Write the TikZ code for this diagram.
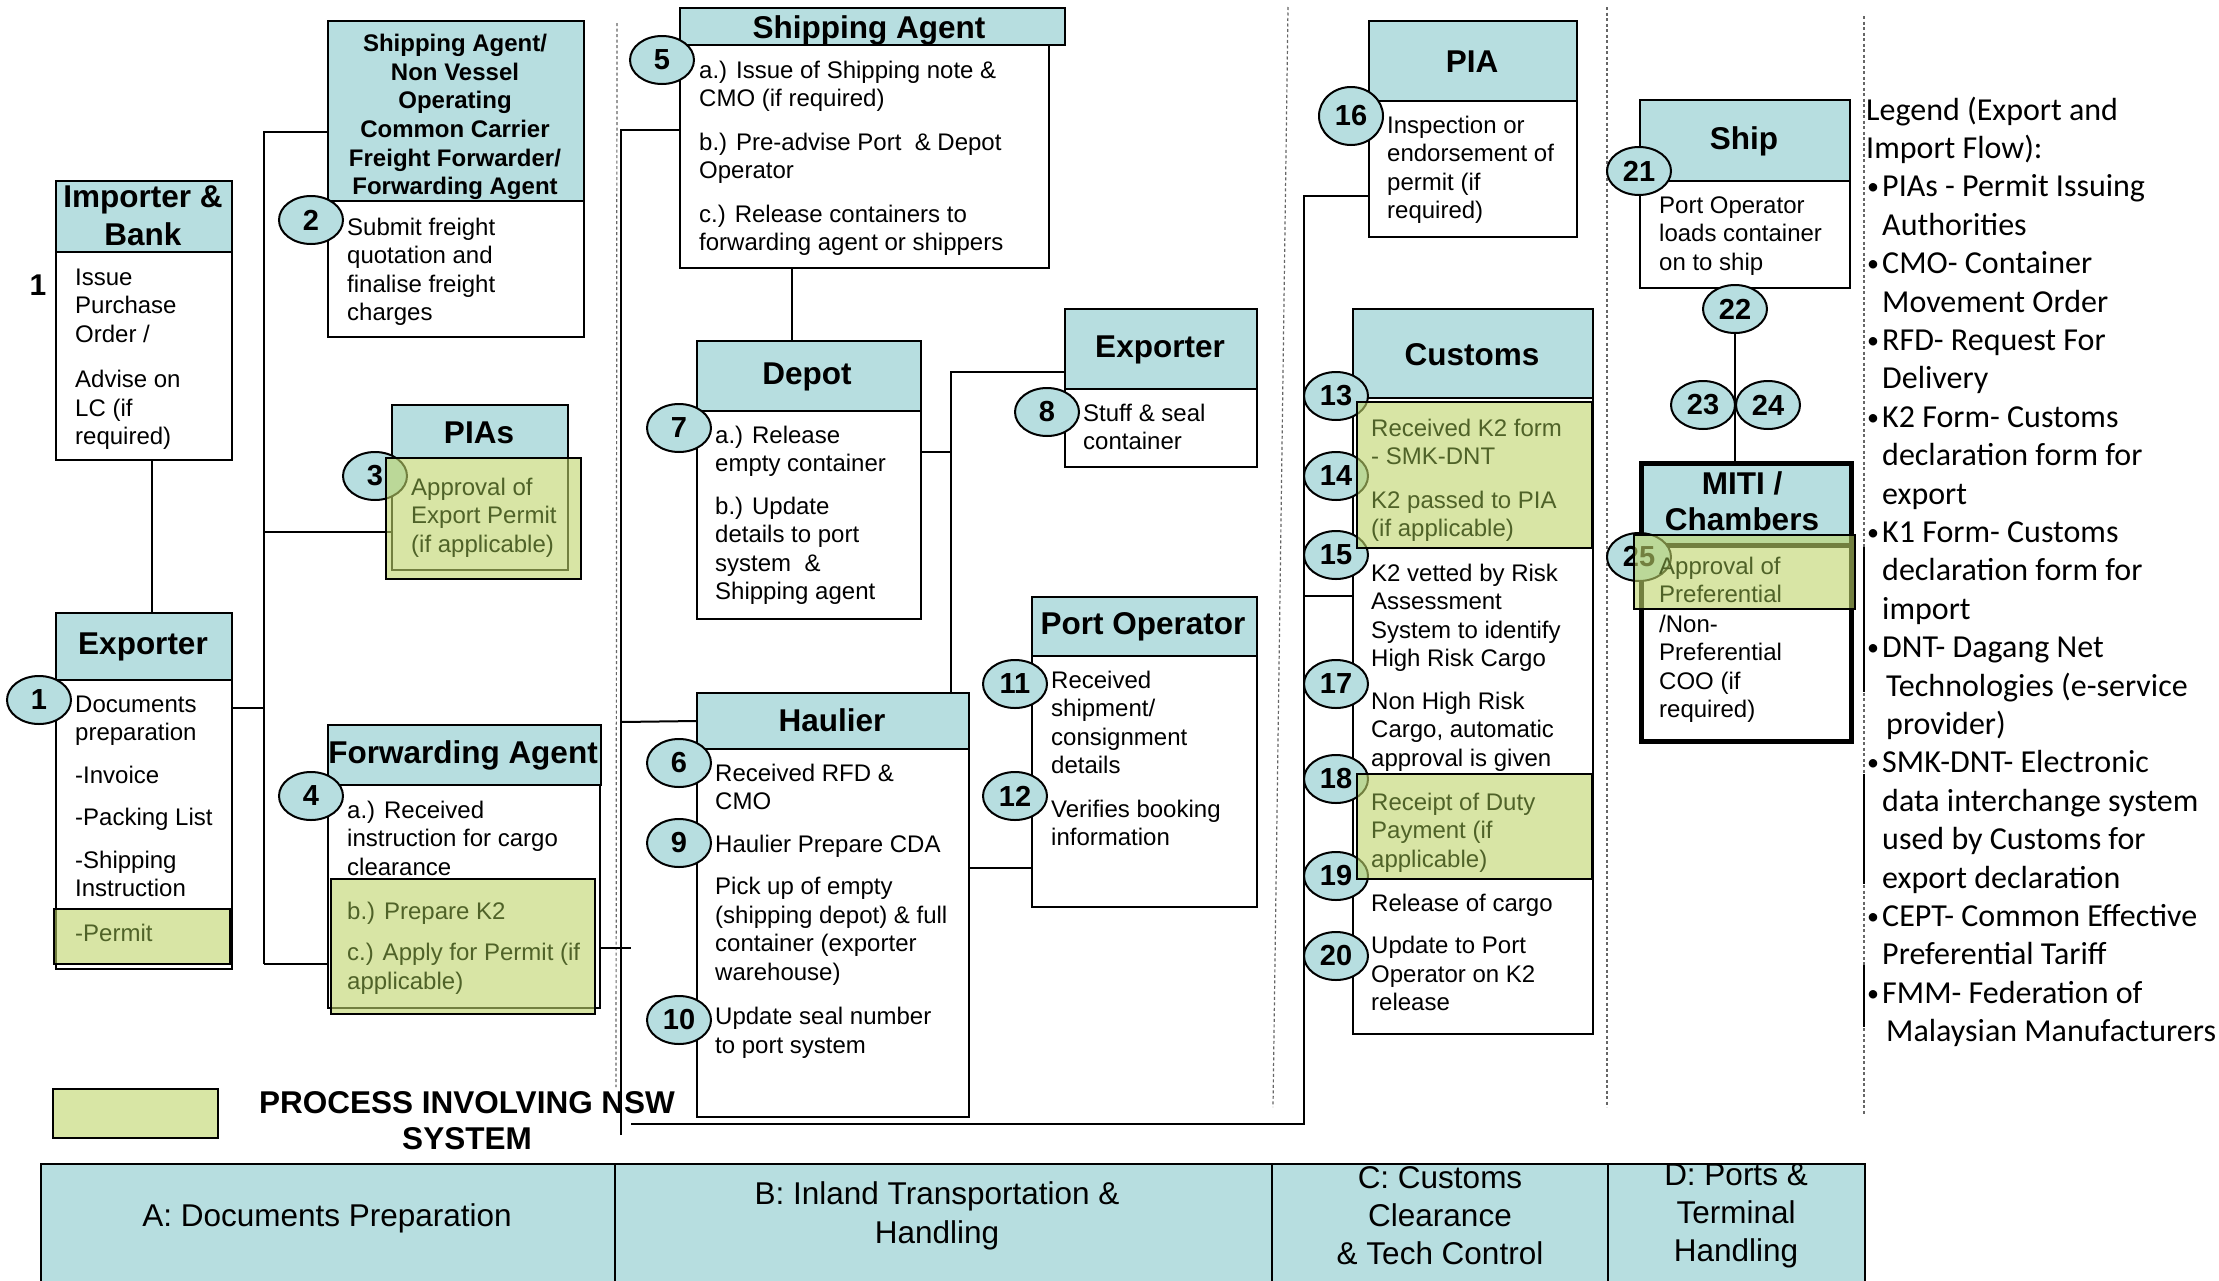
\documentclass[tikz,border=0pt]{standalone}
\usepackage{fontspec}
\setmainfont{Liberation Sans}
\newfontfamily\legfont{Carlito}
\usetikzlibrary{shapes.geometric}
\definecolor{hdrteal}{HTML}{B7DEE0}
\definecolor{nswgreen}{RGB}{190,213,105}
\definecolor{nswlight}{RGB}{216,230,165}
\definecolor{nswtext}{HTML}{4F6228}
\newcommand{\ttlf}{\fontsize{31.5}{38}\selectfont\bfseries}
\newcommand{\bodyf}{\fontsize{24}{28.5}\selectfont}
\newcommand{\numf}{\fontsize{29}{32}\selectfont\bfseries}
\newcommand{\txtl}[1]{\begin{tabular}[t]{@{}l@{}}#1\end{tabular}}
\newcommand{\lbul}{\makebox[16pt][l]{\hspace{1pt}{\fontsize{24}{24}\selectfont\raisebox{2pt}{•}}}}
\newcommand{\lind}{\hspace*{16pt}}
\newcommand{\lindd}{\hspace*{20pt}}
\tikzset{
 hdr/.style={draw, line width=2pt, fill=hdrteal, inner sep=0pt, anchor=north west},
 bodyb/.style={draw, line width=2pt, fill=white, inner sep=0pt, anchor=north west},
 nswb/.style={draw, line width=2pt, fill=nswgreen, fill opacity=0.6, draw opacity=1, inner sep=0pt, anchor=north west},
 band/.style={draw, line width=2pt, fill=hdrteal, inner sep=0pt, anchor=north west, minimum height=130pt},
 ttl/.style={inner sep=0pt, align=center, font=\ttlf},
 btxt/.style={inner sep=0pt, anchor=base west, font=\bodyf},
 gtxt/.style={btxt, text=nswtext},
 num/.style={ellipse, draw, line width=2pt, fill=hdrteal, minimum width=64pt, minimum height=48pt, inner sep=0pt, font=\numf},
 conn/.style={line width=2pt},
 divd/.style={line width=1.2pt, black!60, dash pattern=on 3pt off 2.5pt},
}
\begin{document}
\begin{tikzpicture}[x=1pt,y=-1pt]
\useasboundingbox[fill=white] (0,0) rectangle (2219,1280);

% dividers
\draw[divd] (617,23) -- (616,1087);
\draw[divd] (1288,7) -- (1273,1107);
\draw[divd] (1607,7) -- (1607,1107);
\draw[divd] (1864,16) -- (1864,1115);
\draw[line width=2pt] (1864,547) -- (1864,692);
\draw[line width=2pt] (1864,774) -- (1864,884);
\draw[line width=2pt] (1864,965) -- (1864,1027);

% boxes
\node[hdr, minimum width=176pt, minimum height=71pt] (impH) at (55,180) {};
\node[bodyb, minimum width=176pt, minimum height=208pt] (impB) at (55,251) {};
\node[hdr, minimum width=256pt, minimum height=180pt] (nvH) at (327,20) {};
\node[bodyb, minimum width=256pt, minimum height=136pt] (nvB) at (327,200) {};
\node[hdr, minimum width=176pt, minimum height=53pt] (piasH) at (391,404) {};
\node[bodyb, minimum width=176pt, minimum height=112pt] (piasB) at (391,457) {};
\node[hdr, minimum width=176pt, minimum height=67pt] (expH) at (55,612) {};
\node[bodyb, minimum width=176pt, minimum height=289pt] (expB) at (55,679) {};
\node[hdr, minimum width=273pt, minimum height=60pt] (fwdH) at (327,724) {};
\node[bodyb, minimum width=272pt, minimum height=223pt] (fwdB) at (327,784) {};
\node[hdr, minimum width=385pt, minimum height=37pt] (saH) at (679,7) {};
\node[bodyb, minimum width=369pt, minimum height=223pt] (saB) at (679,44) {};
\node[hdr, minimum width=224pt, minimum height=70pt] (depH) at (696,340) {};
\node[bodyb, minimum width=224pt, minimum height=208pt] (depB) at (696,410) {};
\node[hdr, minimum width=192pt, minimum height=80pt] (ex8H) at (1064,308) {};
\node[bodyb, minimum width=192pt, minimum height=78pt] (ex8B) at (1064,388) {};
\node[hdr, minimum width=272pt, minimum height=56pt] (hauH) at (696,692) {};
\node[bodyb, minimum width=272pt, minimum height=368pt] (hauB) at (696,748) {};
\node[hdr, minimum width=225pt, minimum height=59pt] (poH) at (1031,596) {};
\node[bodyb, minimum width=225pt, minimum height=251pt] (poB) at (1031,655) {};
\node[hdr, minimum width=208pt, minimum height=80pt] (piaH) at (1368,20) {};
\node[bodyb, minimum width=208pt, minimum height=136pt] (piaB) at (1368,100) {};
\node[hdr, minimum width=240pt, minimum height=89pt] (cuH) at (1352,308) {};
\node[bodyb, minimum width=240pt, minimum height=636pt] (cuB) at (1352,397) {};
\node[hdr, minimum width=210pt, minimum height=81pt] (shH) at (1639,99) {};
\node[bodyb, minimum width=210pt, minimum height=107pt] (shB) at (1639,180) {};
\node[hdr, line width=5pt, minimum width=210pt, minimum height=82pt] (miH) at (1639,461) {};
\node[bodyb, line width=5pt, minimum width=210pt, minimum height=196pt] (miB) at (1639,543) {};

% bottom band and NSW legend
\node[band, minimum width=574pt] (bandA) at (40,1163) {};
\node[band, minimum width=657pt] (bandB) at (614,1163) {};
\node[band, minimum width=336pt] (bandC) at (1271,1163) {};
\node[band, minimum width=257pt] (bandD) at (1607,1163) {};
\node[draw, line width=2pt, fill=nswlight, inner sep=0pt, anchor=north west, minimum width=165pt, minimum height=49pt] (lgG) at (52,1088) {};

% connectors
\coordinate (busAtop) at (264,132);
\coordinate (busAbot) at (264,964);
\coordinate (busA708) at (264,708);
\coordinate (busA532) at (264,532);
\draw[conn] (busAbot) -- (busAtop) -- (busAtop -| nvH.west);
\draw[conn] (expB.east |- busA708) -- (busA708);
\draw[conn] (busA532) -- (busA532 -| piasB.west);
\draw[conn] (busAbot) -- (busAbot -| fwdB.west);
\draw[conn] ([xshift=8pt]impB.south) -- ([xshift=8pt]expH.north);
\coordinate (busBtop) at (621,130);
\coordinate (busBbot) at (621,1135);
\coordinate (busB722) at (621,722);
\coordinate (fwdR) at (631,948);
\draw[conn] (busBbot) -- (busBtop) -- (busBtop -| saB.west);
\draw[conn] (busB722) -- (hauH.west);
\draw[conn] (fwdR -| fwdB.east) -- (fwdR);
\coordinate (sd) at (792,300);
\draw[conn] (saB.south -| sd) -- (depH.north -| sd);
\coordinate (jx) at (951,452);
\coordinate (j372) at (951,372);
\draw[conn] (jx -| depB.east) -- (jx);
\draw[conn] (hauH.north -| j372) -- (j372) -- (j372 -| ex8H.west);
\coordinate (hp) at (1000,868);
\draw[conn] (hauB.east |- hp) -- (poB.west |- hp);
\coordinate (cbl) at (631,1124);
\coordinate (cbr) at (1304,1124);
\coordinate (cbt) at (1304,196);
\coordinate (cbc) at (1304,596);
\draw[conn] (cbl) -- (cbr) -- (cbt) -- (cbt -| piaB.west);
\draw[conn] (cbc) -- (cbc -| cuB.west);

% titles
\node[ttl] (impT) at (143,216) {Importer \&\\Bank};
\node[ttl, font=\fontsize{24}{28.7}\selectfont\bfseries] (nvT) at (455,117) {Shipping Agent/\\Non Vessel\\Operating\\Common Carrier\\Freight Forwarder/\\Forwarding Agent};
\node[ttl] (piasT) at (479,433) {PIAs};
\node[ttl] (expT) at (143,647) {Exporter};
\node[ttl] (fwdT) at (463,755) {Forwarding Agent};
\node[ttl] (saT) at (869,30) {Shipping Agent};
\node[ttl] (depT) at (807,377) {Depot};
\node[ttl] (ex8T) at (1160,350) {Exporter};
\node[ttl] (hauT) at (832,720) {Haulier};
\node[ttl] (poT) at (1143,627) {Port Operator};
\node[ttl] (piaT) at (1472,62) {PIA};
\node[ttl] (cuT) at (1472,355) {Customs};
\node[ttl] (shT) at (1744,141) {Ship};
\node[ttl, font=\fontsize{31.5}{36}\selectfont\bfseries] (miT) at (1742,501) {MITI /\\Chambers};
\node[ttl, font=\fontsize{30}{32}\selectfont\bfseries] (one) at (38,285) {1};

% number ellipses
\node[num] (n1) at (39,700) {1};
\node[num] (n2) at (311,220) {2};
\node[num] (n3) at (375,476) {3};
\node[num] (n4) at (311,796) {4};
\node[num] (n5) at (662,60) {5};
\node[num] (n6) at (679,763) {6};
\node[num] (n7) at (679,428) {7};
\node[num] (n8) at (1047,412) {8};
\node[num] (n9) at (679,843) {9};
\node[num] (n10) at (679,1020) {10};
\node[num] (n11) at (1015,684) {11};
\node[num] (n12) at (1015,796) {12};
\node[num] (n13) at (1336,396) {13};
\node[num] (n14) at (1336,476) {14};
\node[num] (n15) at (1336,555) {15};
\node[num, minimum height=58pt] (n16) at (1351,116) {16};
\node[num] (n17) at (1336,684) {17};
\node[num] (n18) at (1336,779) {18};
\node[num] (n19) at (1336,876) {19};
\node[num] (n20) at (1336,956) {20};
\node[num] (n21) at (1639,171) {21};
\node[num] (n22) at (1735,309) {22};
\node[num] (n23) at (1703,405) {23};
\node[num] (n24) at (1768,405) {24};
\node[num] (n25) at (1639,557) {25};
\draw[conn] (n22.south) -- (miH.north -| n22.south);

% NSW (green) overlays
\node[nswb, minimum width=195pt, minimum height=121pt] (piasG) at (385,457) {};
\node[nswb, minimum width=176pt, minimum height=55pt] (expG) at (53,908) {};
\node[nswb, minimum width=264pt, minimum height=135pt] (fwdG) at (330,878) {};
\node[nswb, minimum width=235pt, minimum height=146pt] (cuG1) at (1356,401) {};
\node[nswb, minimum width=235pt, minimum height=105pt] (cuG2) at (1356,773) {};
\node[nswb, minimum width=221pt, minimum height=74pt] (miG) at (1633,534) {};

% body texts
\node[btxt] (impX) at (75,285) {\txtl{Issue\\Purchase\\Order /\\[17pt]Advise on\\LC (if\\required)}};
\node[btxt] (nvX) at (347,235) {\txtl{Submit freight\\quotation and\\finalise freight\\charges}};
\node[gtxt] (piasX) at (411,495) {\txtl{Approval of\\Export Permit\\(if applicable)}};
\node[btxt] (expX) at (75,712) {\txtl{Documents\\preparation\\[14pt]-Invoice\\[14pt]-Packing List\\[14pt]-Shipping\\Instruction}};
\node[gtxt] (expGX) at (75,941) {-Permit};
\node[btxt] (fwdX) at (347,818) {\txtl{a.) Received\\instruction for cargo\\clearance}};
\node[gtxt] (fwdGX) at (347,919) {\txtl{b.) Prepare K2\\[13pt]c.) Apply for Permit (if\\applicable)}};
\node[btxt] (saX) at (699,78) {\txtl{a.) Issue of Shipping note \&\\CMO (if required)\\[15pt]b.) Pre-advise Port~ \& Depot\\Operator\\[15pt]c.) Release containers to\\forwarding agent or shippers}};
\node[btxt] (depX) at (715,443) {\txtl{a.) Release\\empty container\\[14pt]b.) Update\\details to port\\system~ \&\\Shipping agent}};
\node[btxt] (ex8X) at (1083,421) {\txtl{Stuff \& seal\\container}};
\node[btxt] (hauX) at (715,781) {\txtl{Received RFD \&\\CMO\\[14pt]Haulier Prepare CDA\\[14pt]Pick up of empty\\(shipping depot) \& full\\container (exporter\\warehouse)\\[16pt]Update seal number\\to port system}};
\node[btxt] (poX) at (1051,688) {\txtl{Received\\shipment/\\consignment\\details\\[15pt]Verifies booking\\information}};
\node[btxt] (piaX) at (1387,133) {\txtl{Inspection or\\endorsement of\\permit (if\\required)}};
\node[gtxt] (cuG1X) at (1371,436) {\txtl{Received K2 form\\- SMK-DNT\\[15pt]K2 passed to PIA\\(if applicable)}};
\node[btxt] (cuX1) at (1371,581) {\txtl{K2 vetted by Risk\\Assessment\\System to identify\\High Risk Cargo\\[14pt]Non High Risk\\Cargo, automatic\\approval is given}};
\node[gtxt] (cuG2X) at (1371,810) {\txtl{Receipt of Duty\\Payment (if\\applicable)}};
\node[btxt] (cuX2) at (1371,911) {\txtl{Release of cargo\\[14pt]Update to Port\\Operator on K2\\release}};
\node[btxt] (shX) at (1659,213) {\txtl{Port Operator\\loads container\\on to ship}};
\node[gtxt] (miGX) at (1659,574) {\txtl{Approval of\\Preferential}};
\node[btxt] (miX) at (1659,632) {\txtl{/Non-\\Preferential\\COO (if\\required)}};

% band texts
\node[ttl, font=\fontsize{31.5}{37.5}\selectfont] (bandAT) at (327,1218) {A: Documents Preparation};
\node[ttl, font=\fontsize{31.5}{39}\selectfont] (bandBT) at (937,1216) {B: Inland Transportation \&\\Handling};
\node[ttl, font=\fontsize{31.5}{38}\selectfont] (bandCT) at (1440,1216) {C: Customs\\Clearance\\\& Tech Control};
\node[ttl, font=\fontsize{31.5}{38}\selectfont] (bandDT) at (1736,1216) {D: Ports \&\\Terminal\\Handling};
\node[ttl, font=\fontsize{31.5}{36}\selectfont\bfseries] (nswT) at (467,1121) {PROCESS INVOLVING NSW\\SYSTEM};

% legend
\node[inner sep=0pt, anchor=base west, font=\legfont\fontsize{32}{38.4}\selectfont] (legend) at (1866,120) {\txtl{Legend (Export and\\
Import Flow):\\
\lbul PIAs - Permit Issuing\\
\lind Authorities\\
\lbul CMO- Container\\
\lind Movement Order\\
\lbul RFD- Request For\\
\lind Delivery\\
\lbul K2 Form- Customs\\
\lind declaration form for\\
\lind export\\
\lbul K1 Form- Customs\\
\lind declaration form for\\
\lind import\\
\lbul DNT- Dagang Net\\
\lindd Technologies (e-service\\
\lindd provider)\\
\lbul SMK-DNT- Electronic\\
\lind data interchange system\\
\lind used by Customs for\\
\lind export declaration\\
\lbul CEPT- Common Effective\\
\lind Preferential Tariff\\
\lbul FMM- Federation of\\
\lindd Malaysian Manufacturers}};
\end{tikzpicture}
\end{document}
